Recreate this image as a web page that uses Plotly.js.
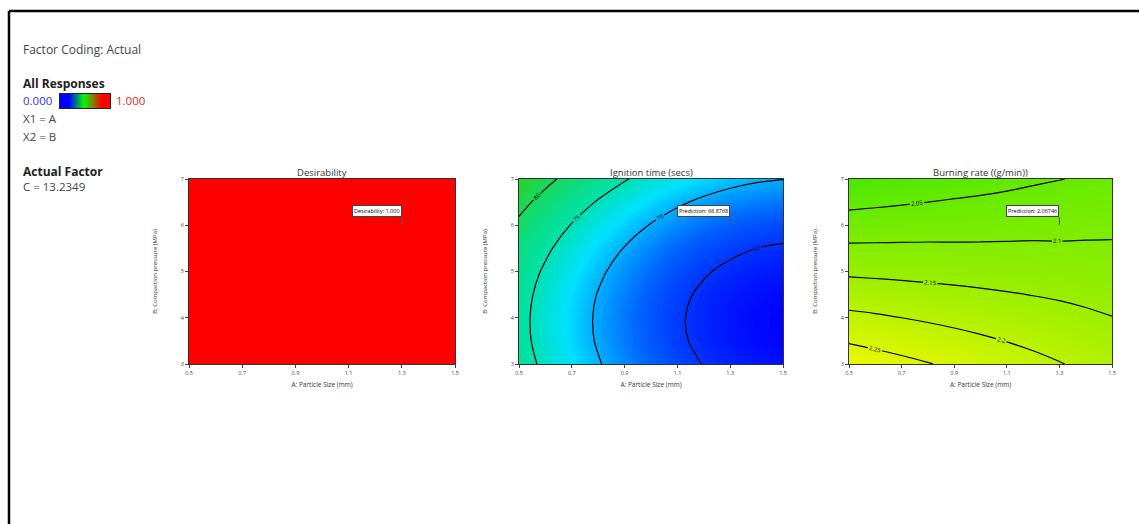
<!DOCTYPE html>
<html>
<head>
<meta charset="utf-8">
<script src="https://cdn.plot.ly/plotly-3.0.1.min.js"></script>
<style>html,body{margin:0;padding:0;background:#fff;}#chart{width:1139px;height:524px;}</style>
</head>
<body>
<div id="chart"></div>
<script>
// ---- data ----
const particleSize = [0.5, 0.6, 0.7, 0.8, 0.9, 1.0, 1.1, 1.2, 1.3, 1.4, 1.5];
const pressure = [3, 3.5, 4, 4.5, 5, 5.5, 6, 6.5, 7];
const xTicks = [0.5, 0.7, 0.9, 1.1, 1.3, 1.5];
const yTicks = [3, 4, 5, 6, 7];

const desirability = [
  [1, 1, 1, 1, 1, 1, 1, 1, 1, 1, 1],
  [1, 1, 1, 1, 1, 1, 1, 1, 1, 1, 1],
  [1, 1, 1, 1, 1, 1, 1, 1, 1, 1, 1],
  [1, 1, 1, 1, 1, 1, 1, 1, 1, 1, 1],
  [1, 1, 1, 1, 1, 1, 1, 1, 1, 1, 1],
  [1, 1, 1, 1, 1, 1, 1, 1, 1, 1, 1],
  [1, 1, 1, 1, 1, 1, 1, 1, 1, 1, 1],
  [1, 1, 1, 1, 1, 1, 1, 1, 1, 1, 1],
  [1, 1, 1, 1, 1, 1, 1, 1, 1, 1, 1]
];

const ignitionTime = [
  [76.59, 74.24, 72.11, 70.22, 68.56, 67.12, 65.91, 64.93, 64.18, 63.66, 63.37],
  [76.09, 73.74, 71.61, 69.72, 68.06, 66.62, 65.41, 64.43, 63.68, 63.16, 62.87],
  [75.98, 73.63, 71.50, 69.61, 67.95, 66.51, 65.30, 64.32, 63.57, 63.05, 62.76],
  [76.24, 73.89, 71.76, 69.87, 68.21, 66.77, 65.56, 64.58, 63.83, 63.31, 63.02],
  [76.89, 74.54, 72.41, 70.52, 68.86, 67.42, 66.21, 65.23, 64.48, 63.96, 63.67],
  [77.92, 75.57, 73.44, 71.55, 69.89, 68.45, 67.24, 66.26, 65.51, 64.99, 64.70],
  [79.32, 76.97, 74.84, 72.95, 71.29, 69.85, 68.64, 67.66, 66.91, 66.39, 66.10],
  [81.11, 78.76, 76.63, 74.74, 73.08, 71.64, 70.43, 69.45, 68.70, 68.18, 67.89],
  [83.27, 80.92, 78.79, 76.90, 75.24, 73.80, 72.59, 71.61, 70.86, 70.34, 70.05]
];

const burningRate = [
  [2.281, 2.271, 2.261, 2.252, 2.242, 2.232, 2.222, 2.212, 2.202, 2.192, 2.182],
  [2.246, 2.238, 2.231, 2.223, 2.215, 2.207, 2.199, 2.191, 2.183, 2.175, 2.167],
  [2.211, 2.206, 2.200, 2.194, 2.188, 2.182, 2.176, 2.170, 2.164, 2.158, 2.151],
  [2.177, 2.173, 2.169, 2.165, 2.161, 2.157, 2.153, 2.149, 2.145, 2.140, 2.136],
  [2.142, 2.140, 2.138, 2.136, 2.134, 2.132, 2.130, 2.128, 2.126, 2.123, 2.121],
  [2.108, 2.108, 2.108, 2.108, 2.107, 2.107, 2.107, 2.107, 2.106, 2.106, 2.106],
  [2.073, 2.075, 2.077, 2.079, 2.081, 2.082, 2.084, 2.086, 2.087, 2.089, 2.090],
  [2.038, 2.042, 2.046, 2.050, 2.054, 2.057, 2.061, 2.065, 2.068, 2.072, 2.075],
  [2.004, 2.010, 2.015, 2.021, 2.027, 2.033, 2.038, 2.044, 2.049, 2.054, 2.060]
];

const panelTitles = ["Desirability", "Ignition time (secs)", "Burning rate ((g/min))"];
const flagX = [1.3];
const flagY = [6.0];
const flagText = ["Desirability: 1.000", "Prediction: 68.8768", "Prediction: 2.06746"];
const legendScale = [[0, 0.5, 1]];
const infoLines = ["Factor Coding: Actual", "All Responses", "0.000", "1.000", "X1 = A", "X2 = B", "Actual Factor", "C = 13.2349"];

// ---- layout helpers ----
const W = 1139, H = 524;
const px = v => v / W;
const py = v => 1 - v / H;
const FONT = "Open Sans, Noto Sans, sans-serif";
const yDom = [py(364), py(179)];
const xDoms = [[px(189), px(455)], [px(519), px(783)], [px(849), px(1112)]];

const traces = [];
traces.push({
  type: 'heatmap', x: particleSize, y: pressure, z: desirability,
  colorscale: [[0, 'rgb(255,0,0)'], [1, 'rgb(255,0,0)']], zmin: 0, zmax: 1,
  showscale: false, xaxis: 'x', yaxis: 'y', hoverinfo: 'skip'
});
traces.push({
  type: 'heatmap', x: particleSize, y: pressure, z: ignitionTime, zsmooth: 'best',
  colorscale: [[0, 'rgb(0,0,255)'], [0.22, 'rgb(0,100,255)'], [0.45, 'rgb(0,225,255)'], [0.62, 'rgb(0,225,165)'], [1, 'rgb(40,210,40)']],
  zmin: 62.7, zmax: 83.3, showscale: false, xaxis: 'x2', yaxis: 'y2', hoverinfo: 'skip'
});
traces.push({
  type: 'contour', x: particleSize, y: pressure, z: ignitionTime,
  contours: {coloring: 'lines', start: 65, end: 80, size: 5, showlabels: true,
    labelfont: {size: 6, color: '#000', family: FONT}},
  line: {color: '#1a1a1a', width: 1.2}, colorscale: [[0, '#000'], [1, '#000']],
  showscale: false, xaxis: 'x2', yaxis: 'y2', hoverinfo: 'skip'
});
traces.push({
  type: 'heatmap', x: particleSize, y: pressure, z: burningRate, zsmooth: 'best',
  colorscale: [[0, 'rgb(75,232,0)'], [0.5, 'rgb(150,238,0)'], [1, 'rgb(238,248,0)']],
  zmin: 2.0, zmax: 2.28, showscale: false, xaxis: 'x3', yaxis: 'y3', hoverinfo: 'skip'
});
traces.push({
  type: 'contour', x: particleSize, y: pressure, z: burningRate,
  contours: {coloring: 'lines', start: 2.05, end: 2.25, size: 0.05, showlabels: true,
    labelformat: '.3~g', labelfont: {size: 6, color: '#000', family: FONT}},
  line: {color: '#1a1a1a', width: 1.2}, colorscale: [[0, '#000'], [1, '#000']],
  showscale: false, xaxis: 'x3', yaxis: 'y3', hoverinfo: 'skip'
});
traces.push({
  type: 'heatmap', z: legendScale, zsmooth: 'best',
  colorscale: [[0, 'rgb(0,0,255)'], [0.45, 'rgb(0,255,0)'], [1, 'rgb(255,0,0)']],
  showscale: false, xaxis: 'x4', yaxis: 'y4', hoverinfo: 'skip'
});

function xax(i) {
  return {
    domain: xDoms[i], range: [0.5, 1.5], tickvals: xTicks, ticktext: xTicks.map(String),
    ticks: 'outside', ticklen: 3, tickcolor: '#444', showgrid: false, zeroline: false,
    showline: true, mirror: true, linecolor: '#333', linewidth: 1,
    tickfont: {size: 5.5, color: '#444', family: FONT},
    title: {text: 'A: Particle Size (mm)', font: {size: 6.5, color: '#333', family: FONT}, standoff: 6},
    anchor: i === 0 ? 'y' : 'y' + (i + 1)
  };
}
function yax(i) {
  return {
    domain: yDom, range: [3, 7], tickvals: yTicks,
    ticks: 'outside', ticklen: 3, tickcolor: '#444', showgrid: false, zeroline: false,
    showline: true, mirror: true, linecolor: '#333', linewidth: 1,
    tickfont: {size: 5.5, color: '#444', family: FONT},
    title: {text: 'B: Compaction pressure (MPa)', font: {size: 6, color: '#333', family: FONT}, standoff: 22},
    anchor: i === 0 ? 'x' : 'x' + (i + 1)
  };
}

const annotations = [];
panelTitles.forEach((t, i) => {
  annotations.push({
    xref: 'paper', yref: 'paper', x: (xDoms[i][0] + xDoms[i][1]) / 2, y: py(172),
    text: t, showarrow: false, xanchor: 'center', yanchor: 'middle',
    font: {size: 9.5, color: '#333', family: FONT}
  });
  annotations.push({
    xref: i === 0 ? 'x' : 'x' + (i + 1), yref: i === 0 ? 'y' : 'y' + (i + 1),
    x: flagX[0], y: flagY[0], text: flagText[i],
    showarrow: true, arrowhead: 0, arrowwidth: 1, arrowcolor: '#555', ax: 0, ay: -8,
    xanchor: 'right', yanchor: 'bottom',
    bgcolor: '#fff', bordercolor: '#444', borderwidth: 1, borderpad: 1,
    font: {size: 5.5, color: '#000', family: FONT}
  });
});
const info = [
  {t: infoLines[0], x: 21, y: 49, bold: false, c: '#444'},
  {t: infoLines[1], x: 21, y: 84, bold: true, c: '#222'},
  {t: infoLines[2], x: 21, y: 101, bold: false, c: 'rgb(50,50,230)'},
  {t: infoLines[3], x: 114, y: 101, bold: false, c: 'rgb(235,30,30)'},
  {t: infoLines[4], x: 21, y: 119, bold: false, c: '#444'},
  {t: infoLines[5], x: 21, y: 136, bold: false, c: '#444'},
  {t: infoLines[6], x: 21, y: 171, bold: true, c: '#222'},
  {t: infoLines[7], x: 21, y: 187, bold: false, c: '#444'}
];
info.forEach(o => annotations.push({
  xref: 'paper', yref: 'paper', x: px(o.x), y: py(o.y), xanchor: 'left', yanchor: 'middle',
  text: o.bold ? '<b>' + o.t + '</b>' : o.t, showarrow: false,
  font: {size: o.t.length > 12 ? 12 : 11.5, color: o.c, family: FONT}
}));

const layout = {
  width: W, height: H, margin: {l: 0, r: 0, t: 0, b: 0},
  paper_bgcolor: '#fff', plot_bgcolor: '#fff', showlegend: false,
  xaxis: xax(0), yaxis: yax(0), xaxis2: xax(1), yaxis2: yax(1), xaxis3: xax(2), yaxis3: yax(2),
  xaxis4: {domain: [px(60), px(110)], anchor: 'y4', showticklabels: false, ticks: '', showgrid: false,
    zeroline: false, showline: true, mirror: true, linecolor: '#222', linewidth: 1},
  yaxis4: {domain: [py(108), py(94)], anchor: 'x4', showticklabels: false, ticks: '', showgrid: false,
    zeroline: false, showline: true, mirror: true, linecolor: '#222', linewidth: 1},
  annotations: annotations,
  shapes: [
    {type: 'line', xref: 'paper', yref: 'paper', x0: px(9), x1: 1, y0: py(11), y1: py(11), line: {color: '#000', width: 2.5}},
    {type: 'line', xref: 'paper', yref: 'paper', x0: px(9), x1: px(9), y0: py(11), y1: 0, line: {color: '#000', width: 2.5}}
  ]
};

Plotly.newPlot('chart', traces, layout, {staticPlot: true, displayModeBar: false});
</script>
</body>
</html>
